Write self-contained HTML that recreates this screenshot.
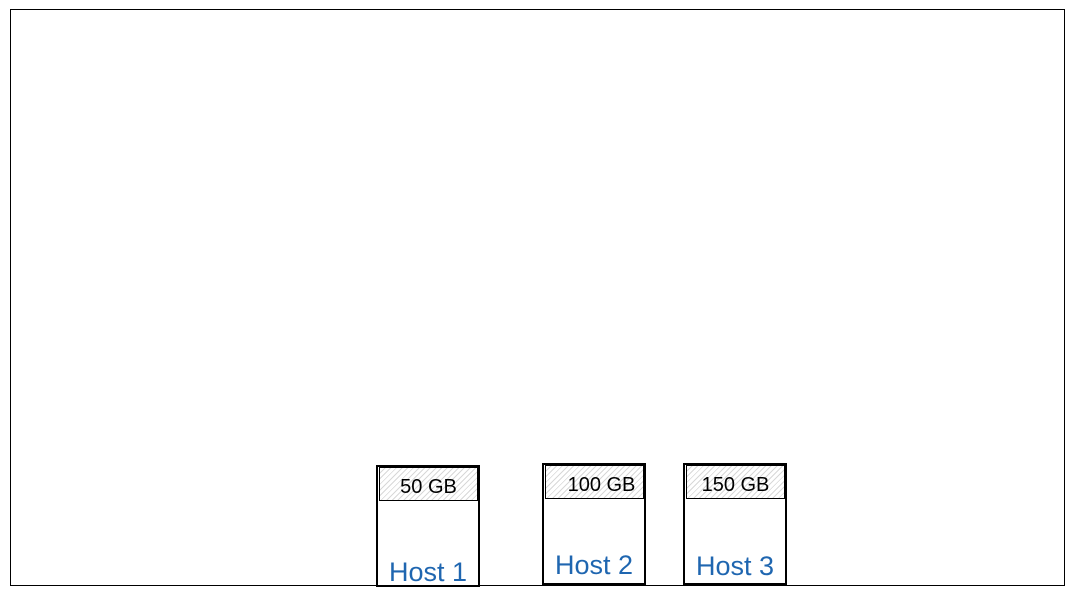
<!DOCTYPE html>
<html><head><style>
body{margin:0;width:1074px;height:599px;background:#fff;overflow:hidden;position:relative;font-family:"Liberation Sans",sans-serif}
.frame{position:absolute;left:10px;top:9px;width:1053px;height:575px;border:1px solid #000;box-sizing:content-box}
.host{position:absolute;border:2px solid #000;background:#fff;box-sizing:border-box}
.hdr{position:absolute;left:1px;right:0;top:0;height:34px;border:1px solid #000;box-sizing:border-box;
background:repeating-linear-gradient(135deg,#fff 0 3px,#d8d8d8 3px 4px);font-size:20px;text-align:center;line-height:38px;color:#000}
.lbl{position:absolute;left:0;right:0;text-align:center;color:#1f66b0;font-size:27px}
</style></head><body>
<div class="frame"></div>
<div class="host" style="left:376px;top:465px;width:104px;height:122px">
<div class="hdr">50 GB</div><div class="lbl" style="top:90px">Host 1</div></div>
<div class="host" style="left:542px;top:463px;width:104px;height:122px">
<div class="hdr" style="text-indent:14px">100 GB</div><div class="lbl" style="top:85px">Host 2</div></div>
<div class="host" style="left:683px;top:463px;width:104px;height:122px">
<div class="hdr">150 GB</div><div class="lbl" style="top:86px">Host 3</div></div>
</body></html>
